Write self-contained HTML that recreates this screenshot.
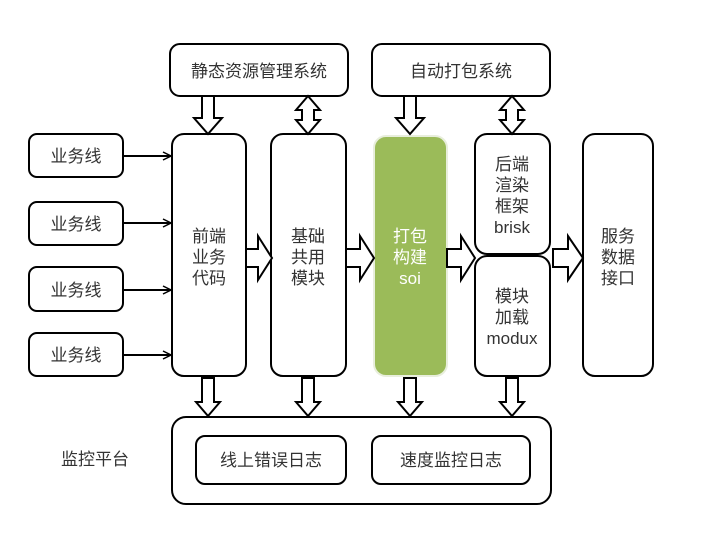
<!DOCTYPE html>
<html><head><meta charset="utf-8"><style>
body{margin:0;background:#fff}
svg{display:block}
text{font-family:"Liberation Sans","Noto Sans CJK SC",sans-serif;font-size:17px;fill:#333;text-anchor:middle}
.b{fill:#fff;stroke:#000;stroke-width:2}
.a{fill:#fff;stroke:#000;stroke-width:2;stroke-linejoin:miter}
</style></head><body>
<svg width="720" height="540" viewBox="0 0 720 540" xmlns="http://www.w3.org/2000/svg">
<defs><marker id="ah" markerWidth="10" markerHeight="10" refX="9" refY="5" orient="auto" markerUnits="userSpaceOnUse"><path d="M1,1 L9,5 L1,9" fill="none" stroke="#000" stroke-width="1.5"/></marker></defs>
<rect class="b" x="170" y="44" width="178" height="52" rx="10"/>
<text x="259" y="77">静态资源管理系统</text>
<rect class="b" x="372" y="44" width="178" height="52" rx="10"/>
<text x="461" y="77">自动打包系统</text>
<g>
<rect class="b" x="29" y="134" width="94" height="43" rx="8"/><text x="76" y="162">业务线</text>
<rect class="b" x="29" y="202" width="94" height="43" rx="8"/><text x="76" y="230">业务线</text>
<rect class="b" x="29" y="267" width="94" height="44" rx="8"/><text x="76" y="296">业务线</text>
<rect class="b" x="29" y="333" width="94" height="43" rx="8"/><text x="76" y="361">业务线</text>
</g>
<g stroke="#000" stroke-width="2" marker-end="url(#ah)">
<line x1="123" y1="156" x2="171" y2="156"/>
<line x1="123" y1="223" x2="171" y2="223"/>
<line x1="123" y1="290" x2="171" y2="290"/>
<line x1="123" y1="355" x2="171" y2="355"/>
</g>
<rect class="b" x="172" y="134" width="74" height="242" rx="12"/>
<text x="209" y="242">前端</text><text x="209" y="263">业务</text><text x="209" y="284">代码</text>
<rect class="b" x="271" y="134" width="75" height="242" rx="12"/>
<text x="308" y="242">基础</text><text x="308" y="263">共用</text><text x="308" y="284">模块</text>
<rect x="374" y="136" width="73" height="240" rx="12" fill="#9bbb59" stroke="#e8eedc" stroke-width="2"/>
<text x="410" y="242" style="fill:#fff">打包</text><text x="410" y="263" style="fill:#fff">构建</text><text x="410" y="284" style="fill:#fff">soi</text>
<rect class="b" x="475" y="134" width="75" height="120" rx="12"/>
<text x="512" y="170">后端</text><text x="512" y="191">渲染</text><text x="512" y="212">框架</text><text x="512" y="233">brisk</text>
<rect class="b" x="475" y="256" width="75" height="120" rx="12"/>
<text x="512" y="302">模块</text><text x="512" y="323">加载</text><text x="512" y="344">modux</text>
<rect class="b" x="583" y="134" width="70" height="242" rx="12"/>
<text x="618" y="242">服务</text><text x="618" y="263">数据</text><text x="618" y="284">接口</text>
<path class="a" d="M202,96 H214 V118 H222 L208,134 L194,118 H202 Z"/>
<path class="a" d="M302,110 H296 L308,96 L320,110 H314 V120 H320 L308,134 L296,120 H302 Z"/>
<path class="a" d="M404,96 H416 V118 H424 L410,134 L396,118 H404 Z"/>
<path class="a" d="M506,110 H500 L512,96 L524,110 H518 V120 H524 L512,134 L500,120 H506 Z"/>
<path class="a" d="M246,249 H258 V236 L272,258 L258,280 V267 H246 Z"/>
<path class="a" d="M346,249 H360 V236 L374,258 L360,280 V267 H346 Z"/>
<path class="a" d="M447,249 H461 V236 L475,258 L461,280 V267 H447 Z"/>
<path class="a" d="M553,249 H568 V236 L583,258 L568,280 V267 H553 Z"/>
<path class="a" d="M202,378 H214 V402 H220 L208,416 L196,402 H202 Z"/>
<path class="a" d="M302,378 H314 V402 H320 L308,416 L296,402 H302 Z"/>
<path class="a" d="M404,378 H416 V402 H422 L410,416 L398,402 H404 Z"/>
<path class="a" d="M506,378 H518 V402 H524 L512,416 L500,402 H506 Z"/>
<text x="95" y="465">监控平台</text>
<rect class="b" x="172" y="417" width="379" height="87" rx="14"/>
<rect class="b" x="196" y="436" width="150" height="48" rx="9"/>
<text x="271" y="466">线上错误日志</text>
<rect class="b" x="372" y="436" width="158" height="48" rx="9"/>
<text x="451" y="466">速度监控日志</text>
</svg>
</body></html>
